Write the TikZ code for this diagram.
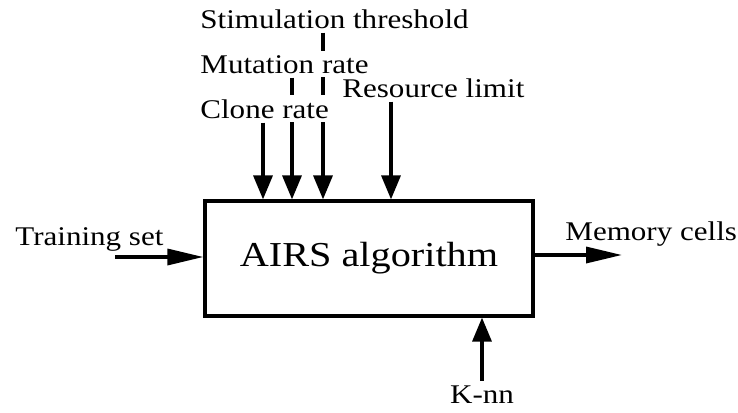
\documentclass[tikz,border=0pt]{standalone}
\usepackage{fontspec}
\setmainfont{Liberation Serif}
\usepackage{graphicx}
\usetikzlibrary{arrows.meta,backgrounds}

\newcommand{\wtxt}[1]{\scalebox{1.15}[1]{#1}}

\tikzset{
  lbl/.style={font=\fontsize{13.5}{16}\selectfont, fill=white, inner xsep=1pt, inner ysep=2pt},
  algobox/.style={draw, line width=1.6pt, minimum width=164pt, minimum height=57.5pt,
    font=\fontsize{17.5}{20}\selectfont},
  varr/.style={line width=1.7pt, -{Triangle[length=12pt,width=9.5pt]}},
  harr/.style={line width=1.7pt, -{Triangle[length=18pt,width=8pt]}}
}

\begin{document}
\begin{tikzpicture}[x=0.5pt,y=-0.5pt]
    \useasboundingbox (0,0) rectangle (738,412);
    %\draw[very thin,color=gray] (0,0) grid[step=50] (738,412);
    \node[algobox] (algo) at (369,258.5) {\wtxt{AIRS algorithm}};

    % parameters on top
    \node[lbl, anchor=base west] (sl) at (198,28)  {\wtxt{Stimulation threshold}};
    \node[lbl, anchor=base west] (ml) at (198,73)  {\wtxt{Mutation rate}};
    \node[lbl, anchor=base west] (cl) at (198,118) {\wtxt{Clone rate}};
    \node[lbl, anchor=base west] (rl) at (340,97)  {\wtxt{Resource limit}};
    \coordinate (cx) at (263,0);
    \coordinate (mx) at (292,0);
    \coordinate (sx) at (323,0);
    \coordinate (rx) at (391,0);

    % input, output, k-nn
    \node[lbl, anchor=base west] (ts) at (13,245)  {\wtxt{Training set}};
    \node[lbl, anchor=base west] (mc) at (563,240) {\wtxt{Memory cells}};
    \node[lbl, anchor=base] (kn) at (482,403) {\wtxt{K-nn}};
    \coordinate (tin) at (115,257);
    \coordinate (mout) at (622,255);

    \begin{pgfonlayer}{background}
    \draw[varr] (sl.south -| sx) -- (sx |- algo.north);
    \draw[varr] (ml.south -| mx) -- (mx |- algo.north);
    \draw[varr] (cl.south -| cx) -- (cx |- algo.north);
    \draw[varr] (rl.south -| rx) -- (rx |- algo.north);
    \end{pgfonlayer}
    \draw[harr] (tin) -- (tin -| algo.west);
    \draw[harr] (mout -| algo.east) -- (mout);
    \draw[varr] (kn.north) -- (kn.north |- algo.south);
\end{tikzpicture}
\end{document}
